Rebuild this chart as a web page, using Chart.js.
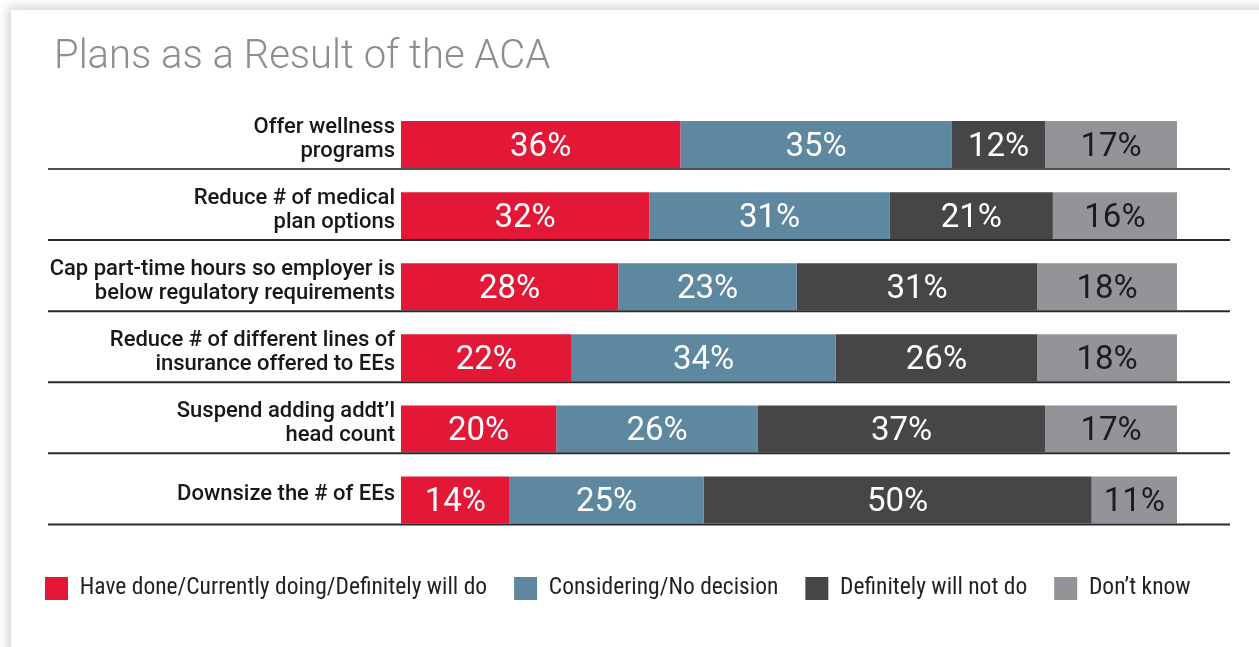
<!DOCTYPE html>
<html><head><meta charset="utf-8">
<script src="https://cdn.jsdelivr.net/npm/chart.js@4.4.1/dist/chart.umd.min.js"></script>
<style>
html,body{margin:0;padding:0;background:#fff;width:1259px;height:647px;overflow:hidden}
#card{position:absolute;left:11px;top:10px;width:1300px;height:700px;background:#fff;box-shadow:-3px -3px 10px rgba(0,0,0,0.18)}
#wrap{position:absolute;left:0;top:0;width:1259px;height:647px}
</style></head><body>
<div id="card"></div>
<div id="wrap"><canvas id="c" width="1259" height="647"></canvas></div>
<script>
const categories = [
  ["Offer wellness", "programs"],
  ["Reduce # of medical", "plan options"],
  ["Cap part-time hours so employer is", "below regulatory requirements"],
  ["Reduce # of different lines of", "insurance offered to EEs"],
  ["Suspend adding addt’l", "head count"],
  ["Downsize the # of EEs"]
];
const haveDone    = [36, 32, 28, 22, 20, 14];
const considering = [35, 31, 23, 34, 26, 25];
const willNot     = [12, 21, 31, 26, 37, 50];
const dontKnow    = [17, 16, 18, 18, 17, 11];
const seriesNames = ["Have done/Currently doing/Definitely will do", "Considering/No decision", "Definitely will not do", "Don’t know"];
const xTicks = [0, 100];

const colors = ["#e31837", "#5e87a0", "#464648", "#949498"];
const labelColors = ["#ffffff", "#ffffff", "#ffffff", "#1c1c1e"];
const seriesValues = [haveDone, considering, willNot, dontKnow];

const titleShift = {
  id: 'titleShift',
  afterLayout(chart) {
    if (chart.titleBlock) chart.titleBlock.left += 36;
  }
};

const sepPlugin = {
  id: 'separators',
  afterDatasetsDraw(chart) {
    const meta = chart.getDatasetMeta(0);
    const c = chart.ctx;
    c.save();
    meta.data.forEach((bar, i) => {
      const p = bar.getProps(['y', 'height'], true);
      const yy = p.y + p.height / 2 + 1;
      c.beginPath();
      c.lineWidth = 2;
      c.strokeStyle = i === 0 ? '#505052' : '#2a2a2c';
      c.moveTo(48, yy);
      c.lineTo(1230, yy);
      c.stroke();
    });
    c.restore();
  }
};

const labelPlugin = {
  id: 'segLabels',
  afterDatasetsDraw(chart) {
    const c = chart.ctx;
    c.save();
    c.font = '400 33px Roboto';
    c.textAlign = 'center';
    c.textBaseline = 'middle';
    chart.data.datasets.forEach((ds, di) => {
      const meta = chart.getDatasetMeta(di);
      meta.data.forEach((bar, j) => {
        const p = bar.getProps(['x', 'base', 'y'], true);
        c.fillStyle = labelColors[di];
        c.fillText(ds.data[j] + '%', (p.x + p.base) / 2, p.y + 3);
      });
    });
    c.restore();
  }
};

new Chart(document.getElementById('c'), {
  type: 'bar',
  data: {
    labels: categories,
    datasets: seriesValues.map((vals, i) => ({
      label: seriesNames[i],
      data: vals,
      backgroundColor: colors[i],
      borderWidth: 0,
      barPercentage: 0.66,
      categoryPercentage: 1
    }))
  },
  options: {
    indexAxis: 'y',
    responsive: false,
    animation: false,
    devicePixelRatio: 1,
    layout: { padding: { left: 18, right: 0, top: 0, bottom: 36.75 } },
    scales: {
      x: {
        stacked: true, min: xTicks[0], max: xTicks[1],
        grid: { display: false, drawTicks: false },
        border: { display: false },
        ticks: { display: false },
        afterFit(s) { s.height = 14.25; }
      },
      y: {
        stacked: true,
        grid: { display: false, drawTicks: false },
        border: { display: false },
        ticks: {
          color: '#1a1718',
          font: { family: 'Roboto', size: 22, weight: '500', lineHeight: 1.09 },
          padding: 6,
          labelOffset: -5
        },
        afterFit(s) { s.width = 383; }
      },
      yRight: {
        type: 'category',
        position: 'right',
        display: true,
        grid: { display: false, drawTicks: false },
        border: { display: false },
        ticks: { display: false },
        afterFit(s) { s.width = 82; }
      }
    },
    plugins: {
      title: {
        display: true,
        text: 'Plans as a Result of the ACA',
        align: 'start',
        color: '#8e8e91',
        font: { family: 'Roboto', size: 40, weight: '300', lineHeight: 1.2 },
        padding: { top: 34, bottom: 27 }
      },
      legend: {
        position: 'bottom',
        align: 'start',
        labels: {
          boxWidth: 23, boxHeight: 23, padding: 27,
          color: '#231f20',
          font: { family: 'Roboto Condensed', size: 23.5 }
        }
      },
      tooltip: { enabled: false }
    }
  },
  plugins: [titleShift, sepPlugin, labelPlugin]
});
</script>
</body></html>
